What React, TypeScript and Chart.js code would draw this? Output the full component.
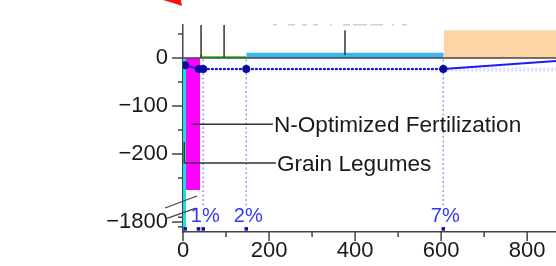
import React, { useEffect, useRef } from "react";
import { Chart, registerables } from "chart.js";

Chart.register(...registerables);

// ---- Data (MAC bars: abatement potential on x, cost on y) ----
const measureNames = [
  "Grain Legumes",
  "N-Optimized Fertilization",
  "Measure 3",
  "Measure 4",
  "Measure 5",
  "Measure 6",
];
const barStart = [0, 7, 40, 44, 147, 606];
const barEnd = [7, 40, 44, 147, 606, 1000];
const barCost = [-1825, -275, 6, 4, 11, 58];

// cumulative share curve (drawn on the cost axis)
const cumX = [5, 37, 47, 147, 605, 867];
const cumY = [-15, -23, -23, -23, -23, -6];

// percentage markers
const pctX = [47, 147, 605];
const pctLabels = ["1%", "2%", "7%"];
const baseMarkX = [5, 36, 47, 147, 605];

// axis ticks
const xMajor = [0, 200, 400, 600, 800];
const xMinor = [100, 300, 500, 700];
const yMajorReal = [0, -100, -200, -1800];
const yMinorReal = [50, -50, -150, -250, -1780, -1820];

// ---- Styles / layout ----
const barColors = ["#19e0e6", "#ff00ff", "#c81414", "#3fdc3f", "#38b6ef", "#fdd4a6"];
const X_MAX = 867;
const Y_MIN = -362.5;
const Y_MAX = 68.75;
const BREAK_AT = -300;
const LOWER_ANCHOR = -1800;
const LOWER_ANCHOR_DISPLAY = -341.7;
const LOWER_SCALE = 0.5;
const FONT = "'Liberation Sans', Arial, Helvetica, sans-serif";

const toDisplay = (v: number) =>
  v >= BREAK_AT ? v : LOWER_ANCHOR_DISPLAY + (v - LOWER_ANCHOR) * LOWER_SCALE;

const fmt = (v: number) => (v < 0 ? "\u2212" + Math.abs(v) : String(v));

const overlay = {
  id: "overlay",
  afterDraw(chart: any) {
    const { ctx, chartArea } = chart;
    const xs = chart.scales.x;
    const ys = chart.scales.y;
    const left = chartArea.left;
    const bottom = chartArea.bottom;
    ctx.save();
    ctx.strokeStyle = "#444";
    ctx.lineWidth = 1.5;
    // y ticks
    yMajorReal.forEach((v) => {
      const p = ys.getPixelForValue(toDisplay(v));
      ctx.beginPath();
      ctx.moveTo(left - 11, p);
      ctx.lineTo(left, p);
      ctx.stroke();
    });
    yMinorReal.forEach((v) => {
      const p = ys.getPixelForValue(toDisplay(v));
      ctx.beginPath();
      ctx.moveTo(left - 5, p);
      ctx.lineTo(left, p);
      ctx.stroke();
    });
    // x ticks
    xMajor.forEach((v) => {
      const p = xs.getPixelForValue(v);
      ctx.beginPath();
      ctx.moveTo(p, bottom);
      ctx.lineTo(p, bottom + 9);
      ctx.stroke();
    });
    xMinor.forEach((v) => {
      const p = xs.getPixelForValue(v);
      ctx.beginPath();
      ctx.moveTo(p, bottom);
      ctx.lineTo(p, bottom + 5);
      ctx.stroke();
    });
    // axis break marks
    const bp = ys.getPixelForValue(toDisplay(LOWER_ANCHOR));
    ctx.lineWidth = 1.3;
    ctx.beginPath();
    ctx.moveTo(left - 18, bp - 14);
    ctx.lineTo(left + 14, bp - 26);
    ctx.moveTo(left - 18, bp - 3);
    ctx.lineTo(left + 13, bp - 14);
    ctx.stroke();

    // top leaders (to bar centres)
    ctx.strokeStyle = "#333";
    ctx.lineWidth = 1.5;
    [2, 3, 4].forEach((i, k) => {
      const cx = xs.getPixelForValue((barStart[i] + barEnd[i]) / 2);
      const top = k < 2 ? chartArea.top : ys.getPixelForValue(58);
      const bot = ys.getPixelForValue(k < 2 ? 2 : 6);
      ctx.beginPath();
      ctx.moveTo(cx, top);
      ctx.lineTo(cx, bot);
      ctx.stroke();
    });

    // annotations
    ctx.fillStyle = "#1a1a1a";
    ctx.font = `22.6px ${FONT}`;
    ctx.textBaseline = "alphabetic";
    ctx.textAlign = "left";
    // N-Optimized Fertilization (bar 1)
    {
      const ly = ys.getPixelForValue(-138);
      const x0 = xs.getPixelForValue(barStart[1] + 12);
      const tx = xs.getPixelForValue(209);
      ctx.beginPath();
      ctx.moveTo(x0, ly);
      ctx.lineTo(tx, ly);
      ctx.stroke();
      ctx.fillText(measureNames[1], tx + 1, ly + 8);
    }
    // Grain Legumes (bar 0)
    {
      const ly = ys.getPixelForValue(-219);
      const x0 = xs.getPixelForValue(barStart[0] + 3);
      const tx = xs.getPixelForValue(216);
      ctx.beginPath();
      ctx.moveTo(x0, ys.getPixelForValue(-175));
      ctx.lineTo(x0, ly);
      ctx.lineTo(tx, ly);
      ctx.stroke();
      ctx.fillText(measureNames[0], tx + 1, ly + 8);
    }

    // percentage labels
    ctx.fillStyle = "#3636f5";
    ctx.font = `20px ${FONT}`;
    ctx.textAlign = "center";
    pctX.forEach((v, i) => {
      ctx.fillText(pctLabels[i], xs.getPixelForValue(v) + 2, 222);
    });

    // cropped remnants at top (red arrow, bottom of a cut-off label)
    ctx.fillStyle = "#ff1010";
    ctx.beginPath();
    ctx.moveTo(left - 20, 0);
    ctx.lineTo(left - 2, 0);
    ctx.lineTo(left - 1, 6);
    ctx.lineTo(left - 10, 3);
    ctx.closePath();
    ctx.fill();
    ctx.fillStyle = "#d0d0d0";
    [
      [273, 4], [288, 7], [302, 5], [313, 5], [330, 2], [343, 7], [353, 14], [370, 13], [392, 2], [402, 5],
    ].forEach(([x, w]) => ctx.fillRect(x, 24, w, 1.5));
    ctx.restore();
  },
};

export default function App() {
  const ref = useRef<HTMLCanvasElement | null>(null);
  useEffect(() => {
    if (!ref.current) return;
    Chart.defaults.font.family = FONT;
    const datasets: any[] = [];
    barCost.forEach((c, i) => {
      const y = toDisplay(c);
      datasets.push({
        type: "line",
        label: measureNames[i],
        data: [
          { x: barStart[i], y: 0 },
          { x: barStart[i], y },
          { x: barEnd[i], y },
          { x: barEnd[i], y: 0 },
        ],
        borderWidth: 0,
        borderColor: "rgba(0,0,0,0)",
        backgroundColor: barColors[i],
        fill: "origin",
        pointRadius: 0,
        order: 30 - i,
      });
    });
    datasets.push({
      type: "line",
      label: "zero",
      data: [
        { x: 0, y: 0 },
        { x: X_MAX, y: 0 },
      ],
      borderColor: "#444",
      borderWidth: 1.5,
      pointRadius: 0,
      fill: false,
      order: 10,
    });
    pctX.forEach((v) => {
      datasets.push({
        type: "line",
        label: "guide",
        data: [
          { x: v, y: -3 },
          { x: v, y: -312 },
        ],
        borderColor: "rgba(120,120,240,0.75)",
        borderWidth: 1.5,
        borderDash: [2, 2.5],
        pointRadius: 0,
        fill: false,
        order: 9,
      });
    });
    datasets.push({
      type: "line",
      label: "share-guide",
      data: [
        { x: pctX[0], y: -24 },
        { x: X_MAX, y: -24 },
      ],
      borderColor: "rgba(130,150,255,0.35)",
      borderWidth: 4,
      borderDash: [2, 2],
      pointRadius: 0,
      fill: false,
      order: 8,
    });
    datasets.push({
      type: "scatter",
      label: "marks",
      data: baseMarkX.map((x) => ({ x, y: -356 })),
      pointStyle: "rect",
      pointRadius: 2.5,
      backgroundColor: "#1010a8",
      borderWidth: 0,
      order: 5,
    });
    datasets.push({
      type: "line",
      label: "cumulative",
      data: cumX.map((x, i) => ({ x, y: cumY[i] })),
      borderColor: "#1c1cf0",
      borderWidth: 2,
      pointRadius: cumX.map((_, i) => (i === cumX.length - 1 ? 0 : 4)),
      pointBackgroundColor: "#0a0aa0",
      pointBorderWidth: 0,
      fill: false,
      tension: 0,
      segment: {
        borderDash: (c: any) => (c.p0.parsed.y === c.p1.parsed.y ? [3, 1] : undefined),
      },
      order: 1,
    });

    const chart = new Chart(ref.current, {
      type: "line",
      data: { datasets },
      options: {
        responsive: false,
        animation: false,
        devicePixelRatio: 1,
        layout: { padding: { top: 25, left: 0, right: 0, bottom: 0 } },
        plugins: { legend: { display: false }, tooltip: { enabled: false } },
        scales: {
          x: {
            type: "linear",
            min: 0,
            max: X_MAX,
            afterBuildTicks: (s: any) => {
              s.ticks = xMajor.map((v) => ({ value: v }));
            },
            afterFit: (s: any) => {
              s.height = 34;
              s.paddingLeft = 0;
              s.paddingRight = 0;
            },
            grid: { drawOnChartArea: false, drawTicks: false },
            border: { color: "#444", width: 1.5 },
            ticks: {
              padding: 6,
              color: "#1a1a1a",
              font: { size: 22, family: FONT },
              maxRotation: 0,
              autoSkip: false,
              callback: (v: any) => fmt(Number(v)),
            },
          },
          y: {
            type: "linear",
            min: Y_MIN,
            max: Y_MAX,
            afterBuildTicks: (s: any) => {
              s.ticks = yMajorReal.map((v) => ({ value: toDisplay(v), label: fmt(v) }));
            },
            afterFit: (s: any) => {
              s.width = 183;
              s.paddingTop = 0;
              s.paddingBottom = 0;
            },
            grid: { drawOnChartArea: false, drawTicks: false },
            border: { color: "#444", width: 1.5 },
            ticks: {
              padding: 15,
              color: "#1a1a1a",
              font: { size: 22, family: FONT },
              autoSkip: false,
              callback: (v: any) => {
                const i = yMajorReal.findIndex((r) => Math.abs(toDisplay(r) - Number(v)) < 0.01);
                return i >= 0 ? fmt(yMajorReal[i]) : "";
              },
            },
          },
        },
      },
      plugins: [overlay],
    });
    return () => chart.destroy();
  }, []);
  return (
    <div
      style={{
        position: "absolute",
        left: 0,
        top: 0,
        width: 556,
        height: 266,
        overflow: "hidden",
        background: "#fff",
      }}
    >
      <canvas ref={ref} width={560} height={266} style={{ display: "block" }} />
    </div>
  );
}
